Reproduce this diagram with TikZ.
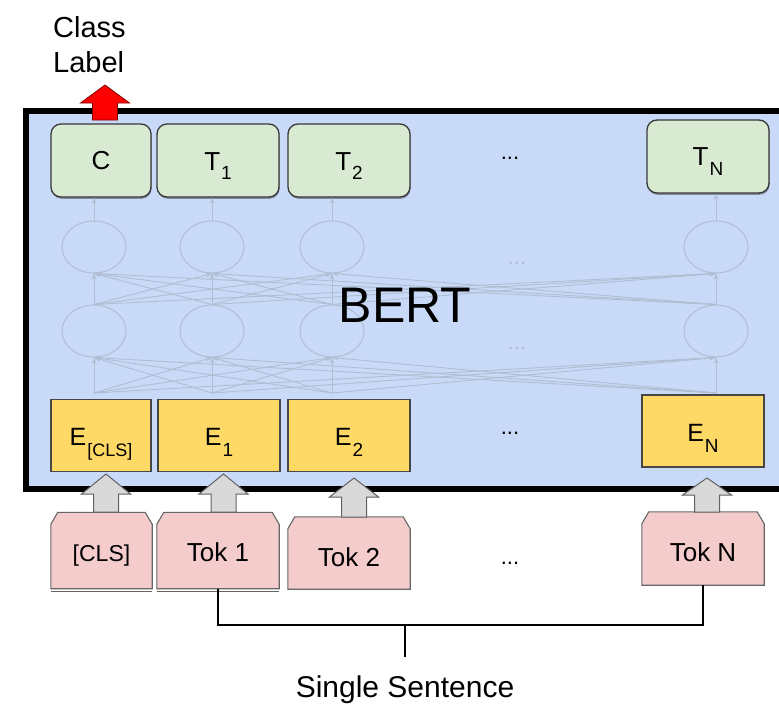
\documentclass[tikz,border=0pt]{standalone}
\usepackage{fontspec}
\setmainfont{Liberation Sans}
\usetikzlibrary{shapes.geometric,arrows.meta,shadows,calc}
\pgfdeclarelayer{bg}
\pgfsetlayers{bg,main}
\definecolor{bertblue}{RGB}{201,218,248}
\definecolor{tgreen}{RGB}{217,234,211}
\definecolor{eyellow}{RGB}{255,217,102}
\definecolor{tpink}{RGB}{244,204,204}
\definecolor{nline}{RGB}{176,189,210}
\definecolor{arrgrey}{RGB}{217,217,217}
\newcommand\mysub[2]{\kern1pt\raisebox{#1}{\fontsize{19}{19}\selectfont #2}}
\newcommand\blockarrow[5]{\filldraw[#1] ({#2-12.5},#5) -- ({#2-12.5},#4) -- ({#2-24.5},#4) -- (#2,#3) -- ({#2+24.5},#4) -- ({#2+12.5},#4) -- ({#2+12.5},#5) -- cycle;}
\begin{document}
\begin{tikzpicture}[x=1pt,y=-1pt,
  gbox/.style={draw=black!78, line width=1.3pt, fill=tgreen, rounded corners=10pt, minimum width=122pt, minimum height=73pt, inner sep=0pt, text height=18.6pt, text depth=0pt, font=\fontsize{26}{30}\selectfont, drop shadow={shadow xshift=0.6pt, shadow yshift=-1.8pt, opacity=0.35, fill=black}},
  ebox/.style={draw=black!72, line width=1.1pt, fill=eyellow, minimum width=122pt, minimum height=72pt, inner sep=0pt, text height=17.9pt, text depth=0pt, font=\fontsize{25}{29}\selectfont},
  tokbox/.style={minimum width=122pt, minimum height=76pt, inner sep=0pt, text height=18.6pt, text depth=0pt, font=\fontsize{26}{30}\selectfont},
  tokdraw/.style={draw=black!60, line width=1.1pt, fill=tpink},
  neuron/.style={ellipse, draw=nline, line width=1pt, minimum width=64pt, minimum height=52pt, inner sep=0pt},
  nlink/.style={draw=nline, line width=0.9pt, -{Stealth[length=6pt,width=4.5pt]}},
  garrow/.style={draw=black!62, line width=1pt, fill=arrgrey},
  rarrow/.style={draw=black!50!red, line width=0.8pt, fill=red},
  dots/.style={font=\fontsize{22}{26}\selectfont},
  fdots/.style={font=\fontsize{22}{26}\selectfont, text=nline},
  bracket/.style={draw=black, line width=1.1pt}
]
\clip (0,0) rectangle (779,704);
\begin{pgfonlayer}{bg}
\fill[white] (0,0) rectangle (779,704);
\end{pgfonlayer}

% BERT box
\node[draw=black, line width=5.5pt, fill=bertblue, minimum width=770pt, minimum height=378pt, inner sep=0pt] (bertbox) at (411,299.75) {};

% network
\foreach \x [count=\i] in {94,212,332,716} {
  \coordinate (b\i) at (\x,393);
  \node[neuron] (l\i) at (\x,331) {};
  \node[neuron] (u\i) at (\x,247) {};
}
\foreach \i in {1,...,4} {
  \foreach \j in {1,...,4} {
    \draw[nlink] (b\i) -- (l\j.south);
    \draw[nlink] (l\i.north) -- (u\j.south);
  }
}
\node[fdots] (fd1) at (517,263) {...};
\node[fdots] (fd2) at (517,348) {...};

\node[font=\fontsize{50}{56}\selectfont] (bert) at (405,305) {BERT};

% output boxes
\node[gbox, minimum width=100pt] (g1) at (101,160.5) {C};
\node[gbox] (g2) at (218,160.5) {\raisebox{-0.5pt}{T\mysub{-9pt}{1}}};
\node[gbox] (g3) at (349,160.5) {\raisebox{-0.5pt}{T\mysub{-9pt}{2}}};
\node[gbox] (g4) at (708,156.5) {T\mysub{-10pt}{N}};
\node[dots] (d1) at (510,158) {...};
\foreach \i in {1,...,4} {
  \draw[nlink] (u\i.north) -- (u\i.north |- g\i.south);
}

% embeddings
\node[ebox, minimum width=100pt] (e1) at (101,435.5) {\raisebox{-1pt}{E\mysub{-11pt}{\fontsize{18}{18}\selectfont[CLS]}}};
\node[ebox] (e2) at (219,435.5) {\raisebox{-1pt}{E\mysub{-11pt}{1}}};
\node[ebox] (e3) at (349,435.5) {\raisebox{-1pt}{E\mysub{-11pt}{2}}};
\node[ebox] (e4) at (703,431) {\raisebox{-2pt}{E\mysub{-11pt}{N}}};
\node[dots] (d2) at (510,433) {...};

% tokens
\node[tokbox, minimum width=101pt, font=\fontsize{23}{27}\selectfont, text height=16.5pt] (tcls) at (101.5,550.5) {\raisebox{-3pt}{[CLS]}};
\node[tokbox] (tok1) at (218,550.5) {\raisebox{-2pt}{Tok 1}};
\node[tokbox, minimum height=72pt] (tok2) at (349,553) {\raisebox{-4pt}{Tok 2}};
\node[tokbox, minimum height=73pt] (tokN) at (703,548.5) {\raisebox{-4pt}{Tok N}};
\node[dots] (d3) at (510,563) {...};
\begin{pgfonlayer}{bg}
\foreach \t in {tcls,tok1,tok2,tokN} {
  \filldraw[tokdraw] (\t.south west) -- ([yshift=-12pt]\t.north west) -- ([xshift=7pt]\t.north west) -- ([xshift=-7pt]\t.north east) -- ([yshift=-12pt]\t.north east) -- (\t.south east) -- cycle;
}
\foreach \t in {tcls,tok1} {
  \draw[draw=black!60, line width=0.9pt] ([yshift=-2.6pt]\t.south west) -- ([yshift=-2.6pt]\t.south east);
}
\end{pgfonlayer}

% input arrows
\blockarrow{garrow}{106}{474}{494}{512}
\blockarrow{garrow}{223.5}{474}{494}{512}
\blockarrow{garrow}{354}{478}{497}{517}
\blockarrow{garrow}{707}{478}{495}{512}

% class label
\blockarrow{rarrow}{105}{85}{103}{120}
\node[anchor=west, align=left, font=\fontsize{29}{35}\selectfont, inner sep=0pt] (cl) at (53,44.5) {Class\\Label};

% sentence bracket
\coordinate (brM) at (405,625);
\coordinate (stem) at (405,657);
\draw[bracket] (tok1.south) -- (tok1.south |- brM) -- (tokN.south |- brM) -- (tokN.south);
\draw[bracket] (brM) -- (stem);
\node[font=\fontsize{30}{34}\selectfont] (sent) at (405,690) {Single Sentence};
\end{tikzpicture}
\end{document}
